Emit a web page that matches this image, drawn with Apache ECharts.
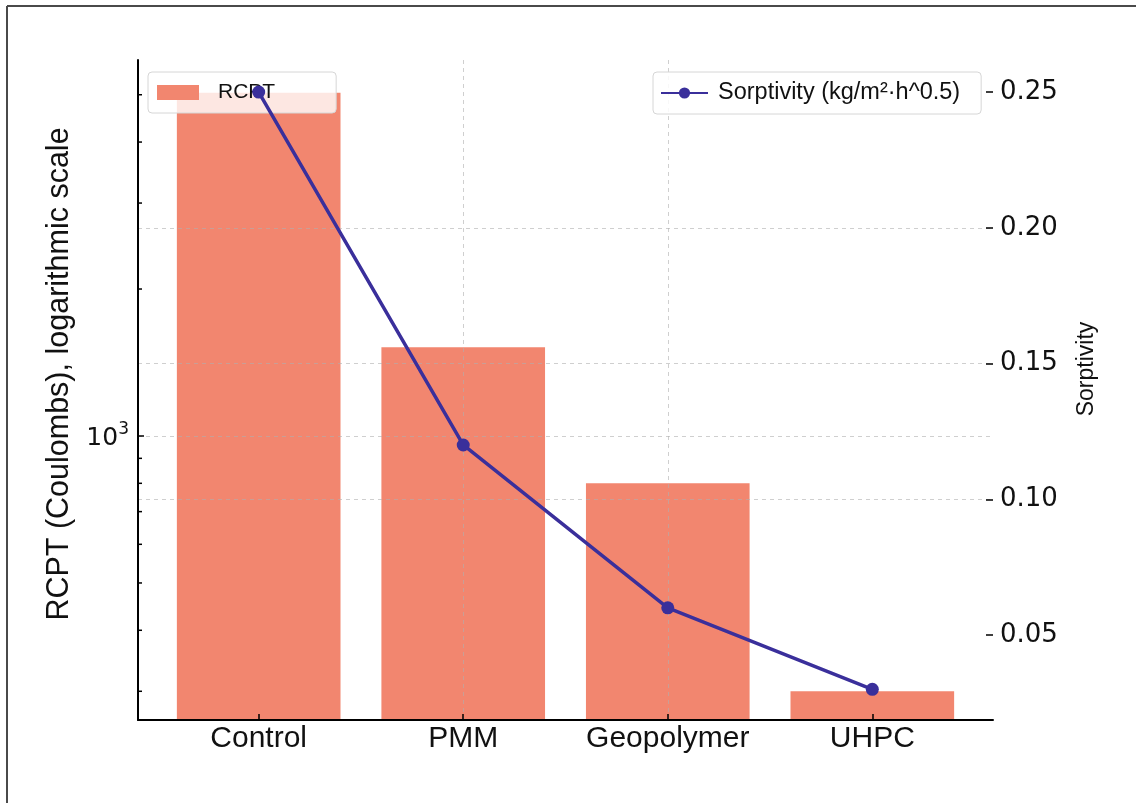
<!DOCTYPE html>
<html><head><meta charset="utf-8">
<script src="https://cdn.jsdelivr.net/npm/echarts@6/dist/echarts.min.js"></script>
<style>html,body{margin:0;padding:0;background:#fff}#c{width:1136px;height:803px}</style>
</head><body><div id="c"></div>
<script>
const categories = ['Control', 'PMM', 'Geopolymer', 'UHPC'];
const rcptValues = [5050, 1520, 800, 300];
const sorptivityValues = [0.25, 0.12, 0.06, 0.03];
const rcptTickValues = [300, 400, 500, 600, 700, 800, 900, 1000, 2000, 3000, 4000, 5000];
const rcptMajorTick = 1000;
const rcptLabelValues = [1000];
const sorptivityTickValues = [0.05, 0.10, 0.15, 0.20, 0.25];
const categoryPositions = [0, 1, 2, 3];

const X_MIN = -0.59, X_MAX = 3.59;
const GRID = {left: 138, right: 143, top: 60, bottom: 83};
const gridW = 1136 - GRID.left - GRID.right;
const barW = 0.8 * gridW / (X_MAX - X_MIN);

const gridLine = {show: true, showMinLine: false, showMaxLine: false,
  lineStyle: {color: 'rgba(175,175,175,0.6)', width: 1, type: [4, 4]}};

const chart = echarts.init(document.getElementById('c'), null, {renderer: 'canvas'});
chart.setOption({
  backgroundColor: '#ffffff',
  animation: false,
  grid: {left: GRID.left, right: GRID.right, top: GRID.top, bottom: GRID.bottom, containLabel: false},
  graphic: [
    {type: 'line', shape: {x1: 7, y1: 6, x2: 1136, y2: 6}, style: {stroke: '#4a4a4a', lineWidth: 2}, z: 100},
    {type: 'line', shape: {x1: 7, y1: 6, x2: 7, y2: 803}, style: {stroke: '#4a4a4a', lineWidth: 2}, z: 100}
  ],
  legend: [
    {data: [{name: 'RCPT', icon: 'rect'}], left: 148, top: 72, orient: 'horizontal',
     padding: [10, 61, 10, 9], itemWidth: 42, itemHeight: 15,
     backgroundColor: 'rgba(255,255,255,0.8)', borderColor: '#d6d6d6', borderWidth: 1, borderRadius: 4,
     textStyle: {fontFamily: 'Liberation Sans', fontSize: 21, color: '#111', padding: [0, 0, 0, 14]}, z: 5},
    {data: ['Sorptivity (kg/m²·h^0.5)'], left: 653, top: 72,
     padding: [9, 21, 9, 7], itemWidth: 47, itemHeight: 14,
     backgroundColor: 'rgba(255,255,255,0.85)', borderColor: '#d6d6d6', borderWidth: 1, borderRadius: 4,
     textStyle: {fontFamily: 'Liberation Sans', fontSize: 23.5, color: '#111', padding: [0, 0, 0, 5]}, z: 20}
  ],
  xAxis: {
    type: 'value', min: X_MIN, max: X_MAX, minInterval: 1, maxInterval: 1, z: 3,
    axisLine: {show: true, onZero: false, lineStyle: {color: '#000', width: 2}},
    axisTick: {show: true, inside: true, length: 6, customValues: categoryPositions, lineStyle: {color: '#000', width: 1.5}},
    axisLabel: {show: true, customValues: categoryPositions, margin: 4,
      formatter: v => categories[Math.round(v)] || '',
      fontFamily: 'Liberation Sans', fontSize: 30, color: '#111'},
    splitLine: gridLine
  },
  yAxis: [
    {type: 'log', logBase: 10, min: 262, max: 5890, position: 'left', z: 3,
     name: 'RCPT (Coulombs), logarithmic scale', nameLocation: 'middle', nameRotate: 90, nameGap: 58,
     nameTextStyle: {fontFamily: 'Liberation Sans', fontSize: 30.5, color: '#111', padding: [0, 0, 0, 32]},
     axisLine: {show: true, onZero: false, lineStyle: {color: '#000', width: 2}},
     axisTick: {show: false},
     axisLabel: {show: true, customValues: rcptLabelValues, margin: 9,
       formatter: v => Math.abs(v - 1000) < 1 ? '{b|10}{s|3}' : '',
       rich: {b: {fontFamily: 'DejaVu Sans', fontSize: 25, color: '#111', lineHeight: 30, verticalAlign: 'bottom'},
              s: {fontFamily: 'DejaVu Sans', fontSize: 17, color: '#111', lineHeight: 30, verticalAlign: 'top'}}},
     splitLine: gridLine
    },
    {type: 'value', min: 0.0187, max: 0.2618, minInterval: 0.05, maxInterval: 0.05, position: 'right', z: 3,
     name: 'Sorptivity', nameLocation: 'middle', nameRotate: 90, nameGap: 82,
     nameTextStyle: {fontFamily: 'Liberation Sans', fontSize: 23, color: '#111', padding: [0, 0, 0, 42]},
     axisLine: {show: false, onZero: false},
     axisTick: {show: true, inside: true, length: 7, customValues: sorptivityTickValues, lineStyle: {color: '#000', width: 1.5}},
     axisLabel: {show: true, customValues: sorptivityTickValues, margin: 7,
       formatter: v => v.toFixed(2), fontFamily: 'DejaVu Sans', fontSize: 26, color: '#111'},
     splitLine: gridLine
    }
  ],
  series: [
    {name: 'RCPT', type: 'bar', xAxisIndex: 0, yAxisIndex: 0, barWidth: barW,
     data: rcptValues.map((v, i) => [categoryPositions[i], v]),
     itemStyle: {color: '#F2866F'}, z: 2},
    {name: 'Sorptivity (kg/m²·h^0.5)', type: 'line', xAxisIndex: 0, yAxisIndex: 1,
     data: sorptivityValues.map((v, i) => [categoryPositions[i], v]),
     symbol: 'circle', symbolSize: 13,
     lineStyle: {color: '#3A2F9B', width: 3.5}, itemStyle: {color: '#3A2F9B'}, z: 10},
    {name: 'rcptTicks', type: 'custom', xAxisIndex: 0, yAxisIndex: 0, silent: true, z: 6,
     data: rcptTickValues.map(v => [0, v]),
     encode: {x: 0, y: 1},
     renderItem: (params, api) => {
       const v = api.value(1);
       const y = api.coord([0, v])[1];
       const x = params.coordSys.x;
       const len = v === rcptMajorTick ? 6 : 4;
       return {type: 'line', shape: {x1: x, y1: y, x2: x + len, y2: y},
               style: {stroke: '#000', lineWidth: 1.5}};
     }}
  ]
});
</script></body></html>
